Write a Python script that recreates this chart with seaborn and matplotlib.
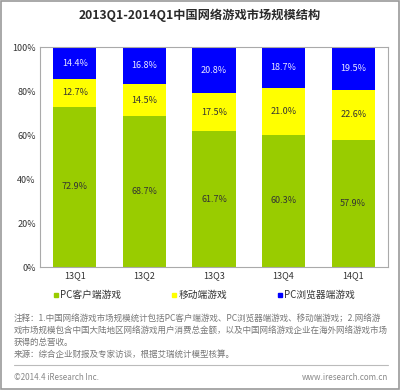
import numpy as np
import pandas as pd
import matplotlib
matplotlib.use("Agg")
import matplotlib.pyplot as plt
import seaborn as sns
from matplotlib.patches import Rectangle
from matplotlib.lines import Line2D

# ---- data ----
quarters = ["13Q1", "13Q2", "13Q3", "13Q4", "14Q1"]
pc_client = [72.9, 68.7, 61.7, 60.3, 57.9]
mobile = [12.7, 14.5, 17.5, 21.0, 22.6]
pc_browser = [14.4, 16.8, 20.8, 18.7, 19.5]

series_names = ["PC客户端游戏", "移动端游戏", "PC浏览器端游戏"]
colors = ["#99cc00", "#ffff00", "#0000ff"]

sns.set_style("white")
plt.rcParams["font.family"] = ["Noto Sans CJK SC", "DejaVu Sans"]

df = pd.DataFrame({
    "quarter": quarters,
    "pc": pc_client,
    "mobile": mobile,
    "browser": pc_browser,
})
df["top_mobile"] = df["pc"] + df["mobile"]
df["top_browser"] = df["top_mobile"] + df["browser"]

fig = plt.figure(figsize=(4.0, 3.9), dpi=100)
ax = fig.add_axes([0.1, 0.315, 0.87, 0.564])

# stacked by overlapping cumulative bars
for col, c in zip(["top_browser", "top_mobile", "pc"], colors[::-1]):
    sns.barplot(data=df, x="quarter", y=col, color=c, width=0.62,
                saturation=1, linewidth=0, edgecolor=c, ax=ax)

for i in range(len(quarters)):
    ax.text(i, df["pc"][i] / 2, f"{pc_client[i]:.1f}%", ha="center",
            va="center", fontsize=6.5, color="#333333")
    ax.text(i, df["pc"][i] + mobile[i] / 2, f"{mobile[i]:.1f}%", ha="center",
            va="center", fontsize=6.5, color="#333333")
    ax.text(i, df["top_mobile"][i] + pc_browser[i] / 2, f"{pc_browser[i]:.1f}%",
            ha="center", va="center", fontsize=6.5, color="#e8e8ff")

ax.set_ylim(0, 100)
ax.set_xlim(-0.5, 4.5)
ax.set_yticks([0, 20, 40, 60, 80, 100])
ax.set_yticklabels([f"{v}%" for v in [0, 20, 40, 60, 80, 100]])
ax.set_xlabel("")
ax.set_ylabel("")
ax.tick_params(axis="both", labelsize=6.5, colors="#333333", length=0, pad=3)
for s in ax.spines.values():
    s.set_color("#aaaaaa")
    s.set_linewidth(0.8)

# title
fig.text(0.5, 0.962, "2013Q1-2014Q1中国网络游戏市场规模结构", ha="center",
         va="center", fontsize=8.8, fontweight="bold", color="#2a2a2a")

# legend
handles = [Line2D([], [], marker="s", linestyle="", markersize=3,
                  markerfacecolor=c, markeredgecolor=c) for c in colors]
fig.legend(handles, series_names, loc="center", bbox_to_anchor=(0.51, 0.243),
           ncol=3, frameon=False, fontsize=7, handletextpad=0.1,
           columnspacing=5.2, handlelength=0.6, labelcolor="#333333")

# notes
notes = [
    "注释：1.中国网络游戏市场规模统计包括PC客户端游戏、PC浏览器端游戏、移动端游戏；2.网络游",
    "戏市场规模包含中国大陆地区网络游戏用户消费总金额，以及中国网络游戏企业在海外网络游戏市场",
    "获得的总营收。",
    "来源：综合企业财报及专家访谈，根据艾瑞统计模型核算。",
]
for k, line in enumerate(notes):
    fig.text(0.035, 1 - (318 + 12 * k) / 390, line, ha="left", va="center",
             fontsize=6.15, color="#777777")

fig.add_artist(Line2D([0.035, 0.97], [1 - 365 / 390, 1 - 365 / 390],
                      color="#bbbbbb", linewidth=0.8))
fig.text(0.035, 1 - 378 / 390, "©2014.4 iResearch Inc.", ha="left",
         va="center", fontsize=5.8, color="#888888")
fig.text(0.97, 1 - 378 / 390, "www.iresearch.com.cn", ha="right",
         va="center", fontsize=5.8, color="#888888")

# outer border
fig.add_artist(Rectangle((0.002, 0.002), 0.996, 0.996, transform=fig.transFigure,
                         fill=False, edgecolor="#999999", linewidth=1.2))

fig.savefig("out.png", dpi=100)
